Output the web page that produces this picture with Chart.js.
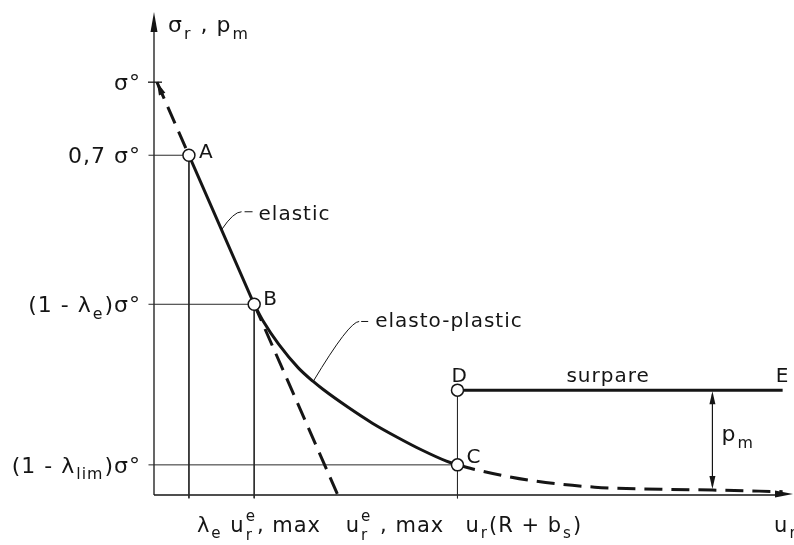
<!DOCTYPE html>
<html>
<head>
<meta charset="utf-8">
<script src="https://cdn.jsdelivr.net/npm/chart.js@4.4.1/dist/chart.umd.min.js"></script>
<style>
  html, body { margin: 0; padding: 0; background: #fff; }
  canvas { display: block; }
</style>
</head>
<body>
<canvas id="grc" width="794" height="545"></canvas>
<script>
// stress as fraction of sigma°, displacement as fraction of u_r^e,max

const pointNames = ['A', 'B', 'C', 'D'];
const pointX = [0.19, 0.545, 1.651, 1.651];
const pointY = [0.823, 0.462, 0.073, 0.254];

// elastic line: dashed start, solid A-B, dashed continuation
const elasticTopX = [0.016, 0.19];
const elasticTopY = [1.0, 0.823];
const elasticX = [0.19, 0.545];
const elasticY = [0.823, 0.462];
const elasticEndX = [0.545, 1.0];
const elasticEndY = [0.462, 0.0];

// elasto-plastic curve B-C
const plasticX = [0.545, 0.597, 0.677, 0.785, 0.866, 0.919, 1.054, 1.188, 1.323, 1.457, 1.591, 1.651];
const plasticY = [0.462, 0.419, 0.366, 0.308, 0.275, 0.256, 0.213, 0.174, 0.140, 0.109, 0.082, 0.073];

// dashed continuation after C
const tailX = [1.651, 1.753, 2.038, 2.398, 2.758, 3.038, 3.42];
const tailY = [0.073, 0.061, 0.036, 0.019, 0.014, 0.012, 0.008];

// support line D-E
const supportX = [1.651, 3.42];
const supportY = [0.254, 0.254];

// tick labels: [text, kind]  kind = sub | sup | subsup
const yTickValues = [1.0, 0.823, 0.462, 0.073];
const yTickLabels = [
  [['σ°']],
  [['0,7 σ°']],
  [['(1 - λ'], ['e', 'sub'], [')σ°']],
  [['(1 - λ'], ['lim', 'sub'], [')σ°']]
];
const xTickValues = [0.19, 1.0, 1.651, 3.33];
const xTickLabels = [
  [['λ'], ['e', 'sub'], [' u'], [['r', 'e'], 'subsup'], [', max']],
  [['u'], [['r', 'e'], 'subsup'], [' , max']],
  [['u'], ['r', 'sub'], ['(R + b'], ['s', 'sub'], [')']],
  [['u'], ['r', 'sub']]
];
const yTitle = [['σ'], ['r', 'sub'], [' , p'], ['m', 'sub']];

const pts = (xs, ys) => xs.map((x, i) => ({ x: x, y: ys[i] }));

const FONT = '"DejaVu Sans", sans-serif';
const INK = '#151515';

function setFont(ctx, size) {
  ctx.font = size + 'px ' + FONT;
}

function partWidth(ctx, part, size) {
  const text = part[0], kind = part[1];
  if (kind === 'sub' || kind === 'sup') {
    setFont(ctx, size * 0.72);
    return ctx.measureText(text).width;
  }
  if (kind === 'subsup') {
    setFont(ctx, size * 0.72);
    return Math.max(ctx.measureText(text[0]).width, ctx.measureText(text[1]).width);
  }
  setFont(ctx, size);
  return ctx.measureText(text).width;
}

function drawRich(ctx, parts, x, y, size, align) {
  let w = 0;
  parts.forEach(p => { w += partWidth(ctx, p, size) + 1; });
  let cx = align === 'right' ? x - w : (align === 'center' ? x - w / 2 : x);
  ctx.textAlign = 'left';
  ctx.textBaseline = 'alphabetic';
  parts.forEach(p => {
    const text = p[0], kind = p[1];
    const pw = partWidth(ctx, p, size);
    if (kind === 'sub') ctx.fillText(text, cx, y + size * 0.3);
    else if (kind === 'sup') ctx.fillText(text, cx, y - size * 0.45);
    else if (kind === 'subsup') {
      ctx.fillText(text[0], cx, y + size * 0.38);
      ctx.fillText(text[1], cx, y - size * 0.52);
    } else ctx.fillText(text, cx, y);
    cx += pw + 1;
  });
}

function arrowHead(ctx, tipX, tipY, fromX, fromY, len, half) {
  const a = Math.atan2(tipY - fromY, tipX - fromX);
  ctx.beginPath();
  ctx.moveTo(tipX, tipY);
  ctx.lineTo(tipX - len * Math.cos(a) + half * Math.sin(a), tipY - len * Math.sin(a) - half * Math.cos(a));
  ctx.lineTo(tipX - len * Math.cos(a) - half * Math.sin(a), tipY - len * Math.sin(a) + half * Math.cos(a));
  ctx.closePath();
  ctx.fill();
}

function line(ctx, x1, y1, x2, y2) {
  ctx.beginPath();
  ctx.moveTo(x1, y1);
  ctx.lineTo(x2, y2);
  ctx.stroke();
}

const diagramPlugin = {
  id: 'diagram',
  beforeDatasetsDraw(chart) {
    const ctx = chart.ctx;
    const px = v => chart.scales.x.getPixelForValue(v);
    const py = v => chart.scales.y.getPixelForValue(v);
    const x0 = px(0), y0 = py(0);
    ctx.save();
    ctx.strokeStyle = INK;
    ctx.fillStyle = INK;
    ctx.lineWidth = 1.3;
    // axes with arrows
    line(ctx, x0, y0, x0, chart.chartArea.top + 14);
    arrowHead(ctx, x0, chart.chartArea.top, x0, chart.chartArea.top + 30, 20, 3.5);
    line(ctx, x0, y0, chart.width - 12, y0);
    arrowHead(ctx, chart.width - 1, y0 - 1, chart.width - 30, y0 - 1, 18, 3.5);
    // tick at sigma°
    line(ctx, x0 - 6, py(1), x0 + 8, py(1));
    ctx.restore();
  },
  afterDatasetsDraw(chart) {
    const ctx = chart.ctx;
    const px = v => chart.scales.x.getPixelForValue(v);
    const py = v => chart.scales.y.getPixelForValue(v);
    const x0 = px(0), y0 = py(0);
    ctx.save();
    ctx.fillStyle = INK;
    ctx.strokeStyle = INK;
    ctx.letterSpacing = '1px';

    // arrow at the start of the elastic line
    arrowHead(ctx, px(elasticTopX[0]), py(elasticTopY[0]), px(elasticTopX[1]), py(elasticTopY[1]), 13, 3.5);

    // tick labels
    yTickValues.forEach((v, i) => drawRich(ctx, yTickLabels[i], x0 - 12, py(v) + 8, 22, 'right'));
    xTickValues.forEach((v, i) => drawRich(ctx, xTickLabels[i], px(v) + 8, y0 + 37, 21, 'left'));
    drawRich(ctx, yTitle, x0 + 14, 32, 22, 'left');

    // point letters
    const offs = { A: [10, 3], B: [9, 1], C: [9, -2], D: [-6, -8] };
    setFont(ctx, 20);
    ctx.textAlign = 'left';
    ctx.textBaseline = 'alphabetic';
    pointNames.forEach((n, i) => {
      ctx.fillText(n, px(pointX[i]) + offs[n][0], py(pointY[i]) + offs[n][1]);
    });
    const ex = px(supportX[1]), ey = py(supportY[1]);
    ctx.fillText('E', ex - 7, ey - 8);

    // surpare
    ctx.textAlign = 'center';
    ctx.fillText('surpare', (px(supportX[0]) + ex) / 2 - 12, ey - 8);

    // pm double arrow
    const mx = px(tailX[5]);
    const topY = py(supportY[0]), botY = py(tailY[5]);
    ctx.lineWidth = 1.2;
    line(ctx, mx, topY + 4, mx, botY - 4);
    arrowHead(ctx, mx, topY + 1, mx, topY + 20, 13, 3);
    arrowHead(ctx, mx, botY - 1, mx, botY - 20, 13, 3);
    drawRich(ctx, [['p'], ['m', 'sub']], mx + 9, (topY + botY) / 2 + 1, 22, 'left');

    // leader: elastic
    const lx = (px(elasticX[0]) + px(elasticX[1])) / 2;
    const ly = (py(elasticY[0]) + py(elasticY[1])) / 2;
    ctx.lineWidth = 1;
    ctx.beginPath();
    ctx.moveTo(lx, ly);
    ctx.quadraticCurveTo(lx + 12, ly - 18, lx + 20, ly - 18);
    ctx.stroke();
    line(ctx, lx + 23, ly - 18, lx + 31, ly - 18);
    setFont(ctx, 20);
    ctx.textAlign = 'left';
    ctx.fillText('elastic', lx + 37, ly - 10);

    // leader: elasto-plastic
    const qx = px(plasticX[4]), qy = py(plasticY[4]);
    ctx.beginPath();
    ctx.moveTo(qx, qy);
    ctx.quadraticCurveTo(qx + 36, qy - 60, qx + 46, qy - 60);
    ctx.stroke();
    line(ctx, qx + 48, qy - 60, qx + 55, qy - 60);
    ctx.fillText('elasto-plastic', qx + 62, qy - 54);

    ctx.restore();
  }
};

const thick = { borderColor: INK, borderWidth: 3, pointRadius: 0, showLine: true, fill: false, clip: false, order: 2 };
const dashed = Object.assign({}, thick, { borderDash: [18, 9] });
const thin = { borderColor: '#2a2a2a', borderWidth: 1, pointRadius: 0, showLine: true, fill: false, clip: false, order: 3 };

const guides = [];
[0, 1, 2].forEach(i => {
  guides.push(Object.assign({ data: [{ x: -0.03, y: pointY[i] }, { x: pointX[i], y: pointY[i] }] }, thin));
});
[0, 1, 3].forEach(i => {
  guides.push(Object.assign({ data: [{ x: pointX[i], y: pointY[i] }, { x: pointX[i], y: -0.008 }] }, thin));
});

new Chart(document.getElementById('grc'), {
  type: 'scatter',
  data: {
    datasets: [
      {
        data: pts(pointX, pointY),
        pointRadius: 6,
        pointBackgroundColor: '#fff',
        pointBorderColor: INK,
        pointBorderWidth: 1.5,
        showLine: false,
        clip: false,
        order: 0
      },
      Object.assign({ data: pts(elasticTopX, elasticTopY) }, dashed),
      Object.assign({ data: pts(elasticX, elasticY) }, thick),
      Object.assign({ data: pts(elasticEndX, elasticEndY) }, dashed),
      Object.assign({ data: pts(plasticX, plasticY), cubicInterpolationMode: 'monotone' }, thick),
      Object.assign({ data: pts(tailX, tailY), cubicInterpolationMode: 'monotone', borderDash: [20, 10] }, dashed),
      Object.assign({ data: pts(supportX, supportY) }, thick)
    ].concat(guides)
  },
  options: {
    responsive: false,
    animation: false,
    devicePixelRatio: 1,
    layout: { padding: { left: 154, right: 0, top: 12, bottom: 50 } },
    plugins: {
      legend: { display: false },
      tooltip: { enabled: false }
    },
    scales: {
      x: { type: 'linear', min: 0, max: 3.441, display: false },
      y: { type: 'linear', min: 0, max: 1.17, display: false }
    }
  },
  plugins: [diagramPlugin]
});
</script>
</body>
</html>
